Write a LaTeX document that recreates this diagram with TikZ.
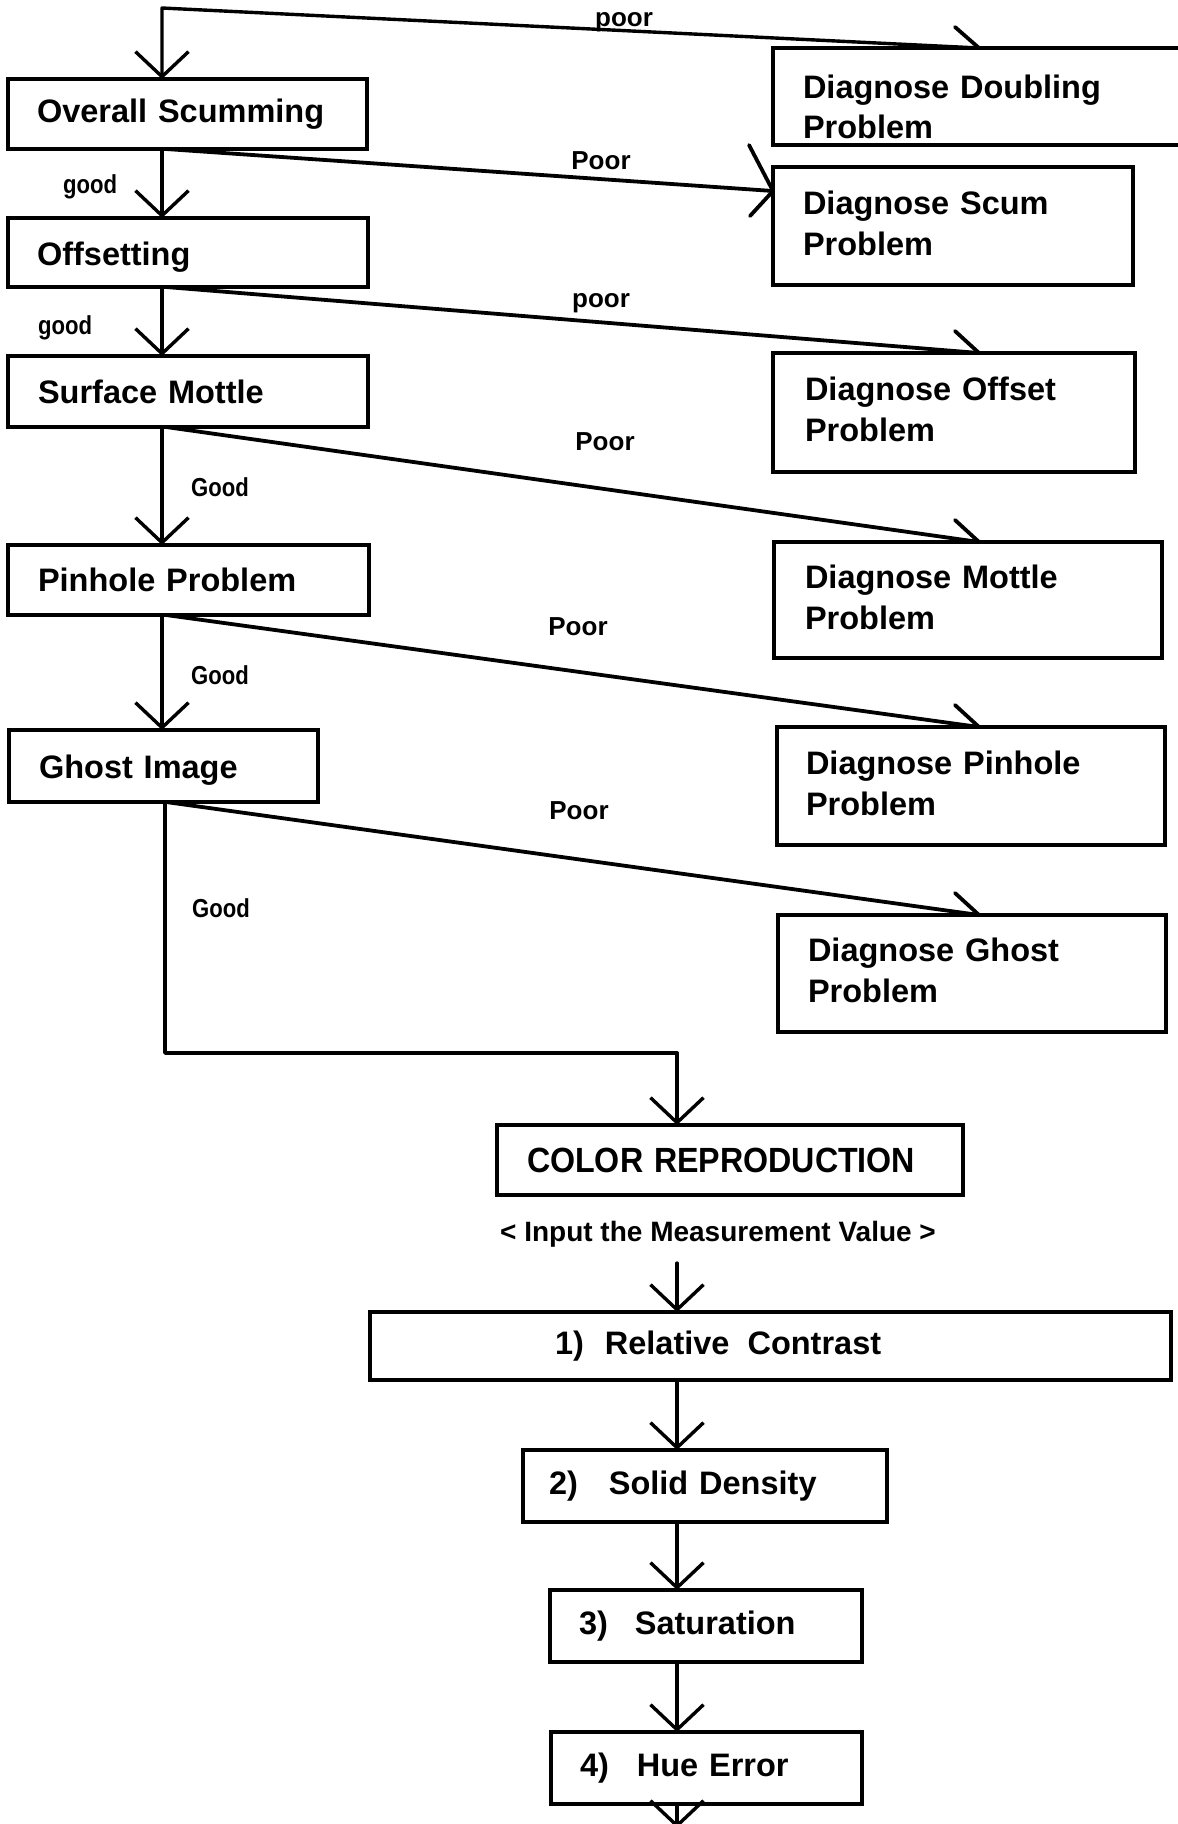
\documentclass[tikz,border=0pt]{standalone}
\usepackage{fontspec}
\setmainfont{Liberation Sans}
\usepackage{graphicx}
\usetikzlibrary{arrows.meta}
\newcommand{\dn}{\rule[-6pt]{0pt}{0pt}}
\begin{document}
\begin{tikzpicture}[x=1pt,y=-1pt,line width=3.8pt,
  box/.style={draw, rectangle, anchor=north west, align=left, outer sep=0pt, inner ysep=0pt, font=\bfseries\fontsize{32.5}{41}\selectfont},
  conn/.style={line width=3.8pt, line cap=round, line join=round},
  arr/.style={conn, line width=3.4pt, -{Straight Barb[length=25pt,width=53pt]}},
  lab/.style={font=\bfseries\fontsize{26}{30}\selectfont, inner sep=0pt}]
\fill[white] (0,0) rectangle (1178,1824);
\useasboundingbox (0,0) rectangle (1178,1824);
\clip (0,0) rectangle (1178,1824);

% left column
\node[box, minimum width=359pt, minimum height=70pt, text width=301pt, inner xsep=29pt] (os) at (8,79) {Overall Scumming};
\node[box, minimum width=360pt, minimum height=69pt, text width=302pt, inner xsep=29pt] (off) at (8,218) {\rule{0pt}{32pt}Offsetting};
\node[box, minimum width=360pt, minimum height=71pt, text width=300pt, inner xsep=30pt] (sm) at (8,356) {Surface Mottle};
\node[box, minimum width=361pt, minimum height=70pt, text width=301pt, inner xsep=30pt] (ph) at (8,545) {Pinhole Problem};
\node[box, minimum width=309pt, minimum height=72pt, text width=249pt, inner xsep=30pt] (gi) at (9,730) {\rule{0pt}{32pt}Ghost Image};

% right column
\node[box, minimum width=420pt, minimum height=97pt, text width=360pt, inner xsep=30pt, font=\bfseries\fontsize{32.5}{40}\selectfont] (dd) at (773,48) {\rule{0pt}{44pt}Diagnose Doubling\\Problem};
\node[box, minimum width=360pt, minimum height=118pt, text width=300pt, inner xsep=30pt] (ds) at (773,167) {Diagnose Scum\\Problem\dn};
\node[box, minimum width=362pt, minimum height=119pt, text width=298pt, inner xsep=32pt] (do) at (773,353) {Diagnose Offset\\Problem\dn};
\node[box, minimum width=388pt, minimum height=116pt, text width=326pt, inner xsep=31pt] (dm) at (774,542) {Diagnose Mottle\\Problem\dn};
\node[box, minimum width=388pt, minimum height=118pt, text width=330pt, inner xsep=29pt] (dp) at (777,727) {Diagnose Pinhole\\Problem\dn};
\node[box, minimum width=388pt, minimum height=117pt, text width=328pt, inner xsep=30pt] (dg) at (778,915) {Diagnose Ghost\\Problem\dn};

% lower chain
\node[box, minimum width=466pt, minimum height=70pt, text width=406pt, inner xsep=30pt, font=\bfseries\fontsize{35}{40}\selectfont] (cr) at (497,1125) {\scalebox{0.92}[1]{COLOR REPRODUCTION}};
\node[lab, font=\bfseries\fontsize{28}{32}\selectfont] (inp) at (718,1234) {< Input the Measurement Value >};
\node[box, minimum width=801pt, minimum height=68pt, text width=431pt, inner xsep=185pt] (rc) at (370,1312) {1)\hspace{21pt}Relative\hspace{18pt}Contrast};
\node[box, minimum width=364pt, minimum height=72pt, text width=312pt, inner xsep=26pt] (sd) at (523,1450) {2)\hspace{31pt}Solid Density};
\node[box, minimum width=312pt, minimum height=72pt, text width=254pt, inner xsep=29pt] (sa) at (550,1590) {3)\hspace{27pt}Saturation};
\node[box, minimum width=311pt, minimum height=72pt, text width=253pt, inner xsep=29pt] (he) at (551,1732) {4)\hspace{28pt}Hue Error};

% labels
\node[lab] (lpoor0) at (624,22.5) {poor};
\node[lab] (lgood1) at (90,186.5) {\scalebox{0.85}[1]{good}};
\node[lab] (lpoor1) at (601,161) {Poor};
\node[lab] (lpoor2) at (601,303) {poor};
\node[lab] (lgood2) at (65,327.5) {\scalebox{0.85}[1]{good}};
\node[lab] (lpoor3) at (605,442) {Poor};
\node[lab] (lgood3) at (220,487) {\scalebox{0.85}[1]{Good}};
\node[lab] (lpoor4) at (578,627) {Poor};
\node[lab] (lgood4) at (220,675) {\scalebox{0.85}[1]{Good}};
\node[lab] (lpoor5) at (579,811) {Poor};
\node[lab] (lgood5) at (221,908) {\scalebox{0.85}[1]{Good}};

% helper coordinates
\coordinate (cL) at (162,0);
\coordinate (cG) at (165,0);
\coordinate (cS) at (166,0);
\coordinate (cT) at (979,0);
\coordinate (cC) at (677,0);
\coordinate (topc) at (162,8);
\coordinate (gc) at (677,1053);
\coordinate (ia) at (677,1263);
\coordinate (bt) at (677,1828);

% doubling loop
\draw[arr] (dd.north -| cT) -- (topc) -- (os.north -| topc);
\draw[conn] (dd.north -| cT) -- ++(-24,-21);

% good arrows
\draw[arr] (os.south -| cL) -- (off.north -| cL);
\draw[arr] (off.south -| cL) -- (sm.north -| cL);
\draw[arr] (sm.south -| cL) -- (ph.north -| cL);
\draw[arr] (ph.south -| cL) -- (gi.north -| cL);
\draw[arr] (gi.south -| cG) |- (gc) -- (cr.north -| gc);

% poor lines
\draw[conn] (os.south -| cS) -- ([yshift=35pt]ds.west);
\draw[conn] ([yshift=35pt]ds.west) ++(-24,-46) -- ([yshift=35pt]ds.west) -- ++(-23,25);
\draw[conn] (off.south -| cS) -- (do.north -| cT);
\draw[conn] (do.north -| cT) -- ++(-24,-22);
\draw[conn] (sm.south -| cS) -- (dm.north -| cT);
\draw[conn] (dm.north -| cT) -- ++(-24,-22);
\draw[conn] (ph.south -| cS) -- (dp.north -| cT);
\draw[conn] (dp.north -| cT) -- ++(-24,-22);
\draw[conn] (gi.south -| cS) -- (dg.north -| cT);
\draw[conn] (dg.north -| cT) -- ++(-24,-22);

% lower chain arrows
\draw[arr] (ia) -- (rc.north -| cC);
\draw[arr] (rc.south -| cC) -- (sd.north -| cC);
\draw[arr] (sd.south -| cC) -- (sa.north -| cC);
\draw[arr] (sa.south -| cC) -- (he.north -| cC);
\draw[arr] (he.south -| cC) -- (bt);
\end{tikzpicture}
\end{document}
